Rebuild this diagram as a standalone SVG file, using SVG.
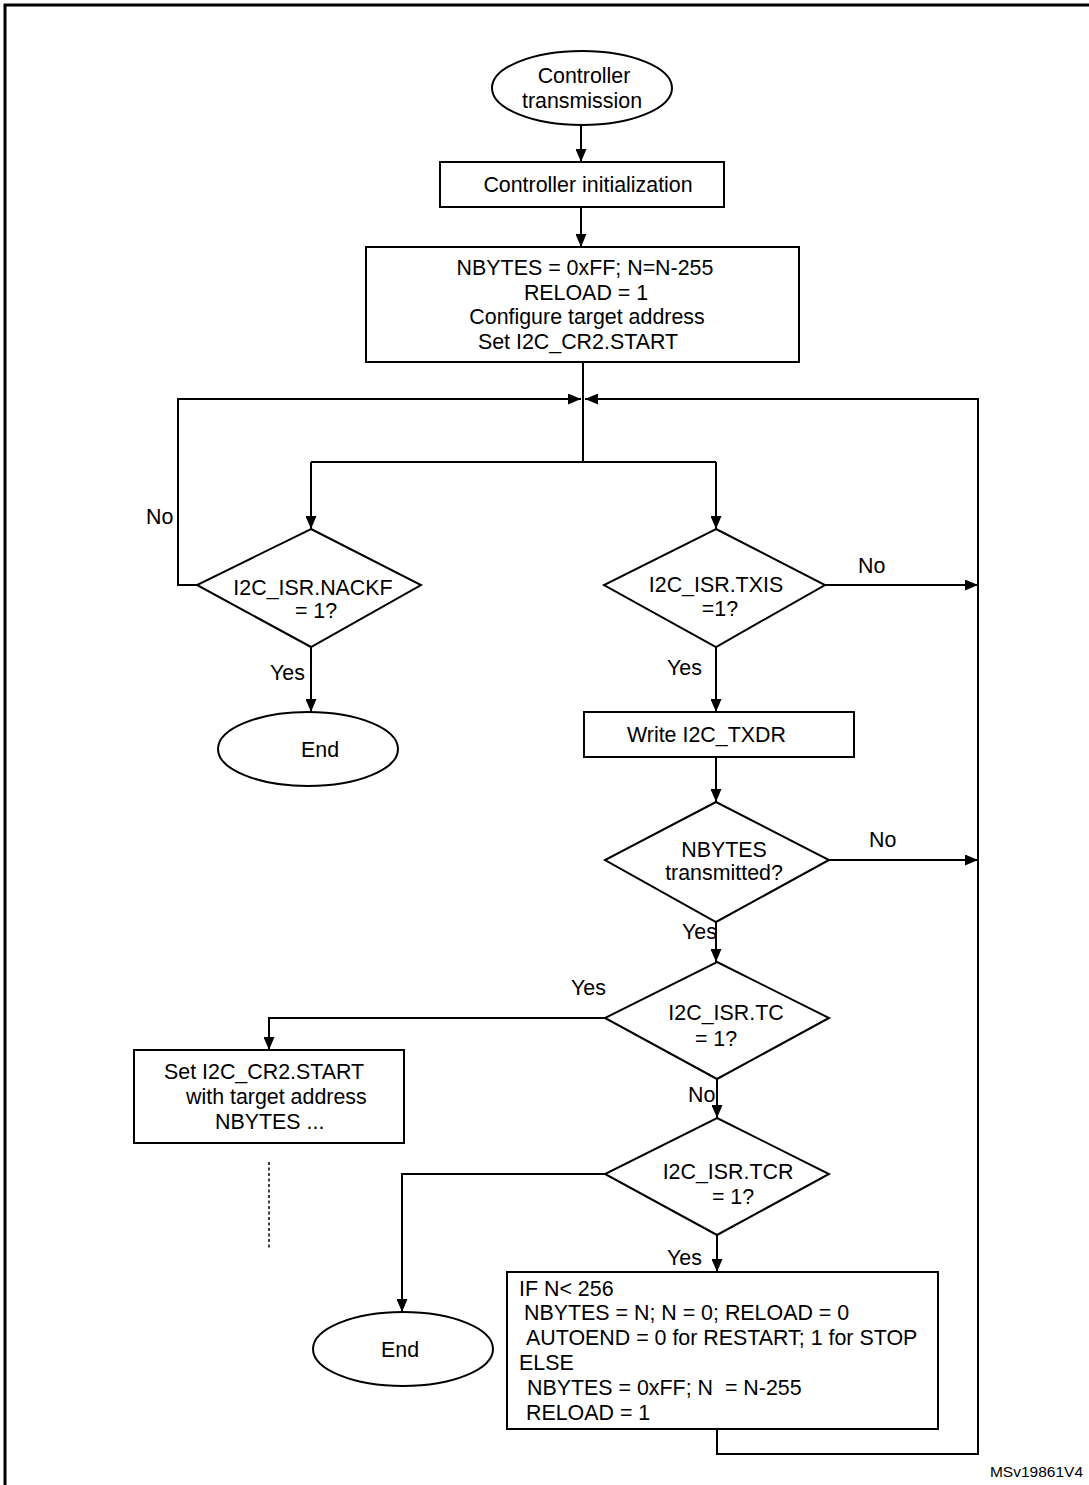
<svg xmlns="http://www.w3.org/2000/svg" width="1089" height="1485" viewBox="0 0 1089 1485">
<defs>
<marker id="ah" viewBox="0 0 13 11" refX="13" refY="5.5" markerWidth="13" markerHeight="11" markerUnits="userSpaceOnUse" orient="auto">
<path d="M0,0 L13,5.5 L0,11 Z" fill="#000"/>
</marker>
</defs>
<style>
.s{fill:#fff;stroke:#000;stroke-width:2}
.c{fill:none;stroke:#000;stroke-width:2}
.t{font-family:"Liberation Sans",Arial,sans-serif;font-size:21.4px;fill:#000}
.m{text-anchor:middle}
</style>
<rect width="1089" height="1485" fill="#fff"/>
<path d="M5,1485 V5 H1089" fill="none" stroke="#000" stroke-width="3"/>

<g id="connectors">
<path class="c" d="M581,125 V162" marker-end="url(#ah)"/>
<path class="c" d="M581,207 V247" marker-end="url(#ah)"/>
<path class="c" d="M583,362 V462"/>
<path class="c" d="M197,585 H178 V399 H581" marker-end="url(#ah)"/>
<path class="c" d="M311,462 H716"/>
<path class="c" d="M311,462 V529" marker-end="url(#ah)"/>
<path class="c" d="M716,462 V529" marker-end="url(#ah)"/>
<path class="c" d="M311,647 V712" marker-end="url(#ah)"/>
<path class="c" d="M825,585 H978" marker-end="url(#ah)"/>
<path class="c" d="M716,647 V712" marker-end="url(#ah)"/>
<path class="c" d="M716,757 V802" marker-end="url(#ah)"/>
<path class="c" d="M829,860 H978" marker-end="url(#ah)"/>
<path class="c" d="M716,922 V962" marker-end="url(#ah)"/>
<path class="c" d="M605,1018 H269 V1050" marker-end="url(#ah)"/>
<path class="c" d="M717,1079 V1118" marker-end="url(#ah)"/>
<path class="c" d="M605,1174 H402 V1312" marker-end="url(#ah)"/>
<path class="c" d="M717,1235 V1272" marker-end="url(#ah)"/>
<path class="c" d="M717,1429 V1454 H978 V399 H585" marker-end="url(#ah)"/>
<path d="M269,1162 V1248" fill="none" stroke="#000" stroke-width="1.5" stroke-dasharray="3,2.5"/>
<text class="t" x="146" y="524">No</text>
<text class="t" x="270" y="680">Yes</text>
<text class="t" x="858" y="573">No</text>
<text class="t" x="667" y="675">Yes</text>
<text class="t" x="869" y="847">No</text>
<text class="t" x="682" y="939">Yes</text>
<text class="t" x="571" y="995">Yes</text>
<text class="t" x="688" y="1102">No</text>
<text class="t" x="667" y="1265">Yes</text>
</g>

<g id="start">
<ellipse class="s" cx="582" cy="88" rx="90" ry="37"/>
<text class="t m" x="584" y="83">Controller</text>
<text class="t m" x="582" y="108">transmission</text>
</g>

<g id="init">
<rect class="s" x="440" y="162" width="284" height="45"/>
<text class="t m" x="588" y="192">Controller initialization</text>
</g>

<g id="config">
<rect class="s" x="366" y="247" width="433" height="115"/>
<text class="t m" x="585" y="275">NBYTES = 0xFF; N=N-255</text>
<text class="t m" x="586" y="300">RELOAD = 1</text>
<text class="t m" x="587" y="324">Configure target address</text>
<text class="t m" x="578" y="349">Set I2C_CR2.START</text>
</g>

<g id="nackf">
<polygon class="s" points="311,529 421,585 311,647 197,585"/>
<text class="t m" x="313" y="595">I2C_ISR.NACKF</text>
<text class="t m" x="316" y="618">= 1?</text>
</g>

<g id="end1">
<ellipse class="s" cx="308" cy="749" rx="90" ry="37"/>
<text class="t m" x="320" y="757">End</text>
</g>

<g id="txis">
<polygon class="s" points="716,529 825,585 716,647 604,585"/>
<text class="t m" x="716" y="592">I2C_ISR.TXIS</text>
<text class="t m" x="720" y="616">=1?</text>
</g>

<g id="write">
<rect class="s" x="584" y="712" width="270" height="45"/>
<text class="t" x="627" y="742">Write I2C_TXDR</text>
</g>

<g id="nbytes">
<polygon class="s" points="716,802 829,860 716,922 605,860"/>
<text class="t m" x="724" y="857">NBYTES</text>
<text class="t m" x="724" y="880">transmitted?</text>
</g>

<g id="tc">
<polygon class="s" points="717,962 829,1018 717,1079 605,1018"/>
<text class="t m" x="726" y="1020">I2C_ISR.TC</text>
<text class="t m" x="716" y="1046">= 1?</text>
</g>

<g id="restart">
<rect class="s" x="134" y="1050" width="270" height="93"/>
<text class="t" x="164" y="1079">Set I2C_CR2.START</text>
<text class="t" x="186" y="1104">with target address</text>
<text class="t" x="215" y="1129">NBYTES ...</text>
</g>

<g id="tcr">
<polygon class="s" points="717,1118 829,1174 717,1235 605,1174"/>
<text class="t m" x="728" y="1179">I2C_ISR.TCR</text>
<text class="t m" x="733" y="1204">= 1?</text>
</g>

<g id="end2">
<ellipse class="s" cx="403" cy="1349" rx="90" ry="37"/>
<text class="t m" x="400" y="1357">End</text>
</g>

<g id="reload">
<rect class="s" x="507" y="1272" width="431" height="157"/>
<text class="t" x="519" y="1296">IF N&lt; 256</text>
<text class="t" x="524" y="1320" xml:space="preserve">NBYTES = N; N = 0; RELOAD = 0</text>
<text class="t" x="526" y="1345">AUTOEND = 0 for RESTART; 1 for STOP</text>
<text class="t" x="519" y="1370">ELSE</text>
<text class="t" x="527" y="1395" xml:space="preserve">NBYTES = 0xFF; N  = N-255</text>
<text class="t" x="526" y="1420">RELOAD = 1</text>
</g>

<text x="1083" y="1477" font-family="'Liberation Sans',Arial,sans-serif" font-size="15.5" text-anchor="end">MSv19861V4</text>
</svg>
